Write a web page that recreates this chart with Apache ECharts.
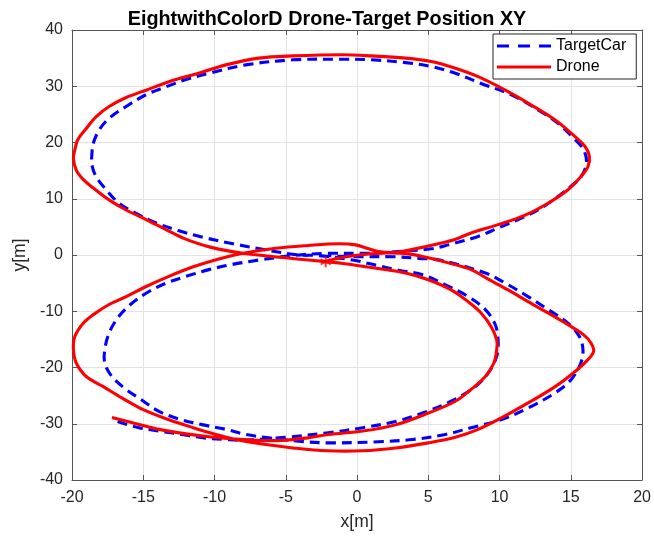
<!DOCTYPE html>
<html>
<head>
<meta charset="utf-8">
<script src="https://cdn.jsdelivr.net/npm/echarts@6/dist/echarts.min.js"></script>
<style>
  html, body { margin: 0; padding: 0; background: #fff; }
  #chart { width: 654px; height: 540px; }
</style>
</head>
<body>
<div id="chart"></div>
<script>
// target car path (x, y in metres) in drawing order
const targetX = [-16.8, -15.3, -13.9, -12.3, -10.8, -9.2, -7.8, -5.0, -2.0, 0.4, 2.7, 4.6, 6.6, 8.3, 9.2, 9.8, 9.9, 9.7, 9.0, 7.8,
  6.2, 4.6, 2.9, 1.3, -0.3, -2.7, -4.1, -6.4, -8.7, -10.9, -12.5, -14.1, -15.5, -16.7, -17.6, -18.3, -18.6, -18.6, -18.5, -18.1,
  -17.4, -16.2, -14.8, -13.4, -12.0, -10.4, -7.8, -4.5, -1.3, 1.0, 3.4, 5.2, 6.9, 8.7, 10.8, 12.7, 14.1, 15.3, 15.9, 16.1,
  15.7, 15.0, 14.1, 12.7, 11.3, 9.9, 8.5, 6.4, 5.2, 2.9, 0.6, -2.2, -4.5, -6.9, -8.8, -10.4, -12.0, -13.4, -14.8, -15.9,
  -16.8, -17.4, -17.7, -17.7, -17.2, -16.2, -15.2, -13.9, -12.3, -10.8, -9.2, -7.8, -6.2, -4.1, -2.0, 1.5, 3.9, 6.2, 8.0, 10.1,
  12.0, 13.9, 15.0, 15.7, 15.85, 15.6, 14.8, 13.4, 12.0, 10.4, 9.0, 5.8, 4.3, 2.5, 0.1, -2.0];
const targetY = [-29.6, -30.7, -31.3, -31.9, -32.5, -32.8, -32.9, -32.4, -31.6, -30.7, -29.6, -28.1, -26.0, -23.4, -21.0, -18.0, -15.4, -12.4, -9.7, -7.4,
  -5.3, -3.5, -2.7, -1.8, -0.9, -0.1, 0.0, 0.9, 2.0, 3.2, 4.3, 5.7, 7.4, 9.2, 11.6, 13.9, 16.0, 18.1, 19.9, 22.2,
  24.3, 26.4, 28.5, 29.9, 31.2, 32.3, 33.8, 34.7, 34.8, 34.7, 34.2, 33.5, 32.3, 30.5, 28.5, 25.8, 23.4, 20.5, 18.7, 16.3,
  13.9, 12.2, 10.4, 8.0, 6.3, 4.8, 3.3, 1.8, 1.1, 0.6, 0.3, 0.3, -0.1, -0.9, -1.7, -2.6, -3.8, -5.0, -6.8, -8.8,
  -11.2, -13.9, -16.8, -19.2, -21.6, -23.9, -25.6, -27.8, -29.3, -30.2, -31.0, -31.9, -32.5, -33.1, -33.4, -33.2, -32.8, -31.9, -30.7, -29.3,
  -27.2, -24.5, -22.2, -19.2, -16.8, -14.5, -12.1, -9.7, -7.4, -5.0, -3.2, -0.9, -0.6, -0.3, -0.3, -0.1];

// drone path
const droneX = [-17.2, -15.5, -13.9, -12.0, -10.4, -8.0, -5.7, -3.4, -2.0, 0.4, 2.7, 5.0, 6.9, 8.0, 9.0, 9.6, 9.8, 9.8, 9.4, 8.7,
  7.8, 6.6, 5.0, 3.4, 1.5, -1.0, -3.4, -5.0, -8.0, -10.3, -12.2, -13.4, -14.8, -16.2, -17.4, -18.5, -19.2, -19.7, -19.9, -19.8,
  -19.6, -19.0, -18.3, -17.4, -16.2, -14.8, -13.2, -11.0, -9.2, -6.9, -4.5, -1.0, 1.0, 3.4, 5.2, 6.9, 8.5, 10.4, 12.2, 13.9,
  15.0, 16.0, 16.3, 16.2, 15.7, 14.8, 13.4, 11.8, 9.9, 8.0, 6.9, 5.7, 3.9, 2.7, 1.5, 0.7, -0.1, -1.3, -3.4, -5.7,
  -8.0, -9.7, -11.5, -13.2, -14.8, -16.2, -17.4, -18.5, -19.2, -19.8, -19.9, -19.7, -19.0, -17.8, -16.5, -15.0, -13.2, -11.5, -9.9, -8.5,
  -6.4, -4.5, -2.1, 0.4, 2.7, 5.0, 6.9, 8.5, 10.1, 12.0, 13.9, 15.3, 16.2, 16.6, 16.4, 15.9, 14.8, 13.4, 12.0, 10.6,
  9.2, 8.0, 6.4, 5.0, 3.6, 2.0, 0.5, -1.0, -2.2];
const droneY = [-28.9, -30.0, -31.0, -31.8, -32.3, -32.8, -33.0, -32.5, -31.9, -31.3, -30.2, -28.1, -26.0, -23.9, -21.6, -19.2, -16.8, -15.1, -12.7, -10.3,
  -8.3, -6.2, -4.4, -3.2, -2.4, -1.5, -0.9, -0.5, 0.3, 1.4, 3.0, 4.5, 6.3, 8.0, 9.8, 11.9, 13.4, 15.1, 17.2, 18.7,
  20.5, 22.5, 24.6, 26.4, 28.0, 29.3, 30.8, 32.4, 33.8, 35.0, 35.4, 35.6, 35.4, 35.0, 34.4, 33.2, 31.7, 29.3, 26.7, 24.0,
  21.7, 19.3, 17.5, 15.7, 13.9, 11.6, 9.2, 7.1, 5.4, 3.9, 2.8, 2.0, 1.0, 0.45, 0.6, 1.2, 1.8, 2.0, 1.7, 1.2,
  0.3, -0.7, -2.1, -3.8, -5.6, -7.4, -8.8, -10.6, -12.1, -14.5, -16.8, -19.2, -21.6, -23.4, -25.4, -27.5, -29.3, -30.7, -31.9, -32.8,
  -33.7, -34.3, -34.8, -34.8, -34.3, -33.4, -32.4, -31.0, -29.0, -26.3, -23.4, -20.7, -18.6, -17.1, -15.6, -14.2, -12.4, -10.3, -8.3, -6.2,
  -4.3, -2.6, -1.4, -0.5, 0.2, 0.35, 0.1, -0.4, -1.1];

// star marker at the drone's last position
const starPoint = [-2.2, -1.2];

const xTicks = { min: -20, max: 20, step: 5 };
const yTicks = { min: -40, max: 40, step: 10 };

const FONT = "'Liberation Sans', Arial, sans-serif";
const axisColor = "#555";
const gridColor = "#e3e3e3";
const BLUE = "#0000ff";
const RED = "#ff0000";

const zip = (xs, ys) => xs.map((x, i) => [x, ys[i]]);

// one smooth path through all points of a trajectory
function trackSeries(name, xs, ys, color, dash, z) {
  return {
    name: name,
    type: "custom",
    coordinateSystem: "cartesian2d",
    data: zip(xs, ys),
    encode: { x: 0, y: 1 },
    itemStyle: { color: color },
    z: z,
    renderItem: function (params, api) {
      if (params.dataIndex !== 0) return null;
      const pts = xs.map((x, i) => api.coord([x, ys[i]]));
      return {
        type: "polyline",
        shape: { points: pts, smooth: 0.35 },
        style: { stroke: color, lineWidth: 3.1, fill: null, lineDash: dash },
      };
    },
  };
}

const chart = echarts.init(document.getElementById("chart"));

const baseAxis = (t) => ({
  type: "value",
  min: t.min,
  max: t.max,
  interval: t.step,
  axisLine: { show: true, onZero: false, lineStyle: { color: axisColor, width: 1 } },
  axisTick: { show: true, inside: true, length: 5, lineStyle: { color: axisColor } },
  splitLine: { show: true, lineStyle: { color: gridColor, width: 1 } },
  axisLabel: { color: "#262626", fontSize: 16, fontFamily: FONT },
});

chart.setOption({
  animation: false,
  title: {
    text: "EightwithColorD Drone-Target Position XY",
    left: "center",
    top: 5,
    textStyle: { fontSize: 19.8, fontWeight: "bold", color: "#000", fontFamily: FONT },
  },
  grid: { left: 72, right: 10, top: 30, bottom: 60 },
  legend: {
    data: [
      { name: "TargetCar", icon: "path://M0,0h12v3h-12z M21,0h12v3h-12z M42,0h12v3h-12z" },
      { name: "Drone", icon: "path://M0,0h54v3h-54z" },
    ],
    orient: "vertical",
    left: 493,
    top: 34,
    itemWidth: 54,
    itemHeight: 12,
    itemGap: 5,
    padding: [4, 10, 4, 4],
    borderColor: "#262626",
    borderWidth: 1,
    backgroundColor: "#fff",
    textStyle: { fontSize: 16, color: "#000", fontFamily: FONT },
  },
  xAxis: [
    Object.assign(baseAxis(xTicks), {
      name: "x[m]",
      nameLocation: "middle",
      nameGap: 33,
      nameTextStyle: { fontSize: 17.5, color: "#262626", fontFamily: FONT },
      axisLabel: { color: "#262626", fontSize: 16, fontFamily: FONT, margin: 10 },
    }),
    Object.assign(baseAxis(xTicks), { position: "top", axisLabel: { show: false }, splitLine: { show: false } }),
  ],
  yAxis: [
    Object.assign(baseAxis(yTicks), {
      name: "y[m]",
      nameLocation: "middle",
      nameGap: 40,
      nameTextStyle: { fontSize: 17.5, color: "#262626", fontFamily: FONT },
      axisLabel: { color: "#262626", fontSize: 16, fontFamily: FONT, margin: 9 },
    }),
    Object.assign(baseAxis(yTicks), { position: "right", axisLabel: { show: false }, splitLine: { show: false } }),
  ],
  series: [
    trackSeries("TargetCar", targetX, targetY, BLUE, [10, 6], 2),
    trackSeries("Drone", droneX, droneY, RED, null, 3),
    {
      name: "end",
      type: "scatter",
      data: [starPoint],
      symbol: "path://M-1,-6h2v4.3l3.7,-2.1 1,1.7-3.7,2.1 3.7,2.1-1,1.7-3.7,-2.1v4.3h-2v-4.3l-3.7,2.1-1,-1.7 3.7,-2.1-3.7,-2.1 1,-1.7 3.7,2.1z",
      symbolSize: 11,
      itemStyle: { color: RED },
      z: 4,
    },
  ],
});
</script>
</body>
</html>
